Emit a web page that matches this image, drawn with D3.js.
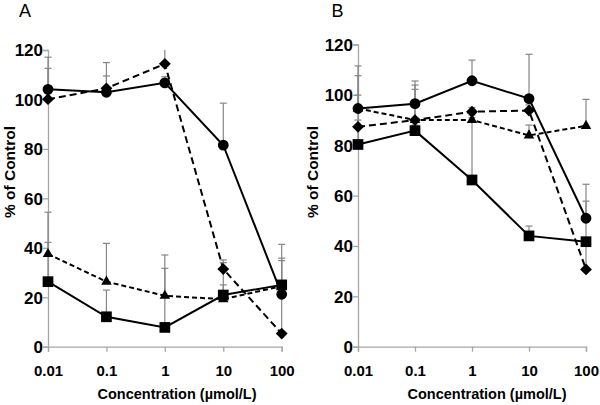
<!DOCTYPE html>
<html><head><meta charset="utf-8">
<script src="https://cdn.jsdelivr.net/npm/d3@7"></script>
<style>
body{margin:0;background:#fff;}
svg{display:block;}
text{font-family:Arial,"Liberation Sans",sans-serif;}
</style></head>
<body>
<script>
// ---- data ----
const concentrations = [0.01, 0.1, 1, 10, 100];
const xTickLabels = ["0.01", "0.1", "1", "10", "100"];
const yTicks = [0, 20, 40, 60, 80, 100, 120];

// Panel A
const aCircle      = [104.1, 102.9, 106.7, 81.5, 21.2];
const aCircleUp    = [117.1, 114.9, 109.2, 98.5, 41.4];
const aDiamond     = [100.1, 104.5, 114.4, 31.4, 5.3];
const aDiamondUp   = [112.6, 109.5, 120.0, 35.1, 21.0];
const aTriangle    = [37.5, 26.3, 20.6, 19.2, 24.5];
const aTriangleUp  = [54.4, 41.8, 37.1, 25.0, 34.8];
const aSquare      = [26.3, 12.1, 7.8, 20.9, 25.0];
const aSquareUp    = [42.2, 22.9, 31.7, 34.0, 35.8];

// Panel B
const bCircle      = [94.6, 96.5, 105.6, 98.5, 51.0];
const bCircleUp    = [111.5, 105.5, 113.8, 116.1, 64.5];
const bDiamond     = [87.3, 90.0, 93.3, 93.8, 30.7];
const bDiamondUp   = [107.6, 103.9, 95.0, 96.0, 40.0];
const bTriangle    = [94.6, 90.0, 90.0, 83.9, 87.7];
const bTriangleUp  = [99.9, 102.2, 92.0, 88.0, 98.2];
const bSquare      = [80.3, 85.8, 66.2, 44.0, 41.7];
const bSquareUp    = [90.0, 88.0, 91.0, 47.9, 57.8];

const W = 600, H = 405;
const svg = d3.select("body").append("svg").attr("width", W).attr("height", H);

const axisColor = "#a6a6a6";
const errColor = "#858585";

function panel(opt) {
  const x = d3.scaleLog().domain([0.01, 100]).range([opt.x0, opt.x1]);
  const y = d3.scaleLinear().domain([0, 120]).range([opt.yb, opt.yt]);
  const g = svg.append("g");

  // axes
  const ya = g.append("g").attr("transform", `translate(${opt.x0},0)`)
    .call(d3.axisLeft(y).tickValues(yTicks).tickSize(5).tickPadding(0).tickFormat(d3.format("d")));
  const xa = g.append("g").attr("transform", `translate(0,${opt.yb})`)
    .call(d3.axisBottom(x).tickValues(concentrations).tickSize(5).tickPadding(14)
      .tickFormat((d, i) => xTickLabels[i]));
  [ya, xa].forEach(a => {
    a.select(".domain").attr("stroke", axisColor).attr("stroke-width", 1.3);
    a.selectAll(".tick line").attr("stroke", axisColor).attr("stroke-width", 1.3);
    a.selectAll(".tick text").attr("fill", "#000").style("font-weight", "bold")
      .style("font-family", "Arial, 'Liberation Sans', sans-serif");
  });
  ya.selectAll(".tick text").style("font-size", "17px").attr("dy", "0.34em");
  xa.selectAll(".tick text").style("font-size", "15px");

  const series = opt.series;
  // error bars
  series.forEach(s => {
    const eg = g.append("g");
    concentrations.forEach((c, i) => {
      const cx = x(c);
      eg.append("line").attr("x1", cx).attr("x2", cx).attr("y1", y(s.v[i])).attr("y2", y(s.up[i]))
        .attr("stroke", errColor).attr("stroke-width", 1.2);
      if (s.up[i] < 119.9)
        eg.append("line").attr("x1", cx - 3.5).attr("x2", cx + 3.5).attr("y1", y(s.up[i])).attr("y2", y(s.up[i]))
          .attr("stroke", errColor).attr("stroke-width", 1.2);
    });
  });
  // lines
  series.forEach(s => {
    const line = d3.line().x((d, i) => x(concentrations[i])).y(d => y(d));
    g.append("path").datum(s.v).attr("d", line).attr("fill", "none").attr("stroke", "#000")
      .attr("stroke-width", 2).attr("stroke-dasharray", s.dash || null);
  });
  // markers
  series.forEach(s => {
    const sym = d3.symbol().type(s.sym).size(s.size);
    g.append("g").selectAll("path").data(s.v).join("path")
      .attr("d", sym)
      .attr("transform", (d, i) => `translate(${x(concentrations[i])},${y(d)})` + (s.rot ? " rotate(45)" : ""))
      .attr("fill", "#000");
  });

  // titles
  svg.append("text").attr("x", opt.labelX).attr("y", 16.5).text(opt.label)
    .style("font-size", "18px").attr("fill", "#000");
  svg.append("text").attr("x", opt.xtX).attr("y", 398.5).attr("text-anchor", "middle")
    .text("Concentration (µmol/L)").style("font-size", "14.5px").style("font-weight", "bold");
  svg.append("text").attr("transform", `translate(${opt.ytX},172) rotate(-90)`).attr("text-anchor", "middle")
    .text("% of Control").style("font-size", "15.5px").style("font-weight", "bold");
}

function mkSeries(c, cu, d, du, t, tu, s, su) {
  return [
    {v: t, up: tu, sym: d3.symbolTriangle, size: 48, dash: "5,3"},
    {v: s, up: su, sym: d3.symbolSquare, size: 115},
    {v: d, up: du, sym: d3.symbolSquare, size: 70, rot: true, dash: "7,4"},
    {v: c, up: cu, sym: d3.symbolCircle, size: 92}
  ];
}

panel({x0: 48, x1: 281.7, yb: 346.7, yt: 50, label: "A", labelX: 19, xtX: 177, ytX: 15,
  series: mkSeries(aCircle, aCircleUp, aDiamond, aDiamondUp, aTriangle, aTriangleUp, aSquare, aSquareUp)});
panel({x0: 358, x1: 586, yb: 346.7, yt: 44.5, label: "B", labelX: 331.5, xtX: 487, ytX: 318,
  series: mkSeries(bCircle, bCircleUp, bDiamond, bDiamondUp, bTriangle, bTriangleUp, bSquare, bSquareUp)});
</script>
</body></html>
